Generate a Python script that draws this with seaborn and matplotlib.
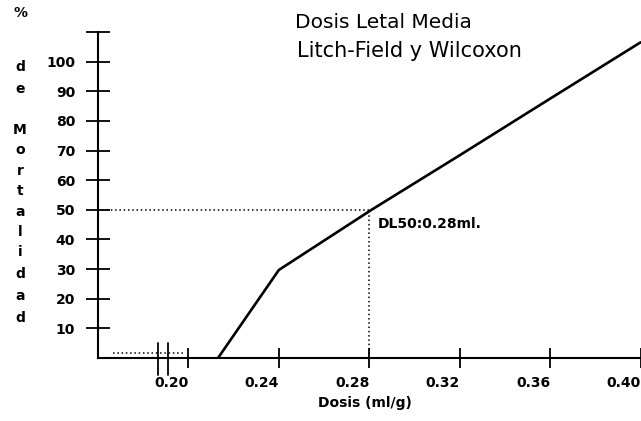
import matplotlib
matplotlib.use("Agg")
import matplotlib.pyplot as plt
import seaborn as sns

# ---- data ----
dose = [0.2131, 0.24, 0.281, 0.32, 0.36, 0.40]
mortality = [0, 29.7, 50, 68.4, 87.5, 106.5]
dl50_dose = 0.28
dl50_mort = 50
x_ticks = [0.20, 0.24, 0.28, 0.32, 0.36, 0.40]
x_tick_labels = ["0.20", "0.24", "0.28", "0.32", "0.36", "0.40"]
y_ticks = [10, 20, 30, 40, 50, 60, 70, 80, 90, 100, 110]
y_tick_labels = ["10", "20", "30", "40", "50", "60", "70", "80", "90", "100", ""]
low_dots_x = [0.1666, 0.1987]
low_dots_y = [1.6, 1.6]
break_x = [0.1867, 0.1911]
ylabel_chars = ["%", "d", "e", "M", "o", "r", "t", "a", "l", "i", "d", "a", "d"]
ylabel_ys = [13, 67, 89, 130, 150, 171, 191, 212, 232, 252, 274, 296, 318]
title1 = "Dosis Letal Media"
title2 = "Litch-Field y Wilcoxon"
xlabel = "Dosis (ml/g)"
annot = "DL50:0.28ml."

sns.set_theme(style="white")
plt.rcParams["font.family"] = ["DejaVu Sans"]

W, H = 641, 421
fig = plt.figure(figsize=(W / 100, H / 100), dpi=100)
fig.patch.set_facecolor("white")
ax = fig.add_axes([98 / W, 1 - 358 / H, (640.5 - 98) / W, (358 - 32) / H])
ax.set_facecolor("white")

sns.lineplot(x=dose, y=mortality, ax=ax, color="black", lw=1.9, sort=False,
             estimator=None)

dot = (0, (1, 1.8))
ax.plot([0.16, dl50_dose], [dl50_mort, dl50_mort], color="black", lw=1.1, ls=dot)
ax.plot([dl50_dose, dl50_dose], [0, dl50_mort - 1], color="black", lw=1.1, ls=dot)
ax.plot(low_dots_x, low_dots_y, color="black", lw=1.1, ls=dot)
for bx in break_x:
    ax.plot([bx, bx], [5, -5.8], color="black", lw=1.3, clip_on=False)

ax.set_xlim(0.16, 0.40)
ax.set_ylim(0, 110)
ax.set_xticks(x_ticks)
ax.set_xticklabels(x_tick_labels, fontsize=10, fontweight="bold", ha="right")
ax.set_yticks(y_ticks)
ax.set_yticklabels(y_tick_labels, fontsize=10, fontweight="bold")
ax.tick_params(axis="x", direction="inout", length=14.5, width=1.3, pad=6,
               colors="black", bottom=True)
ax.tick_params(axis="y", direction="inout", length=17, width=1.3, pad=8,
               colors="black", left=True)
for s in ["top", "right"]:
    ax.spines[s].set_visible(False)
for s in ["left", "bottom"]:
    ax.spines[s].set_color("black")
    ax.spines[s].set_linewidth(1.5)

ax.set_xlabel(xlabel, fontsize=10, fontweight="bold", color="black")
ax.xaxis.set_label_coords((365 - 98) / 542.5, -(403 - 358) / 326)
ax.xaxis.label.set_va("center")

ax.text(0.2836, 45.2, annot, fontsize=10, fontweight="bold", va="center",
        ha="left", color="black")

fig.text(383 / W, 1 - 22 / H, title1, fontsize=14.5, ha="center", va="center",
         color="black")
fig.text(409 / W, 1 - 51 / H, title2, fontsize=15, ha="center", va="center",
         color="black")

for ch, yy in zip(ylabel_chars, ylabel_ys):
    fig.text(20 / W, 1 - yy / H, ch, fontsize=10, fontweight="bold",
             ha="center", va="center", color="black")

fig.savefig("out.png", dpi=100, facecolor="white")
